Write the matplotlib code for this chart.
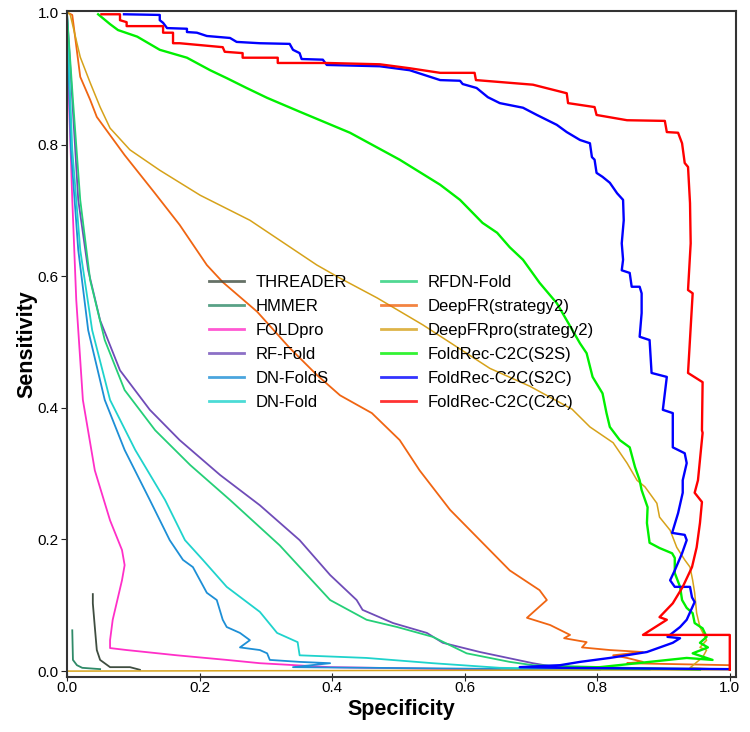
import matplotlib
matplotlib.use('Agg')
import matplotlib.pyplot as plt

plt.rcParams['font.family'] = ['Liberation Sans', 'DejaVu Sans']

# (specificity, sensitivity) points
threader_x = [0.039, 0.039, 0.042, 0.045, 0.050, 0.065, 0.095, 0.110]
threader_y = [0.117, 0.103, 0.067, 0.032, 0.017, 0.006, 0.006, 0.002]

hmmer_x = [0.008, 0.009, 0.015, 0.023, 0.050]
hmmer_y = [0.062, 0.017, 0.009, 0.005, 0.003]

foldpro_x = [0.0, 0.003, 0.008, 0.014, 0.024, 0.042, 0.065, 0.083, 0.087, 0.083, 0.069,
             0.065, 0.065, 0.090, 0.166, 0.241, 0.291, 0.397, 0.653]
foldpro_y = [1.0, 0.868, 0.716, 0.564, 0.412, 0.305, 0.229, 0.184, 0.161, 0.138, 0.078,
             0.047, 0.035, 0.032, 0.024, 0.017, 0.012, 0.006, 0.002]

rffold_x = [0.0, 0.008, 0.017, 0.032, 0.050, 0.080, 0.125, 0.170, 0.231, 0.291, 0.351,
            0.397, 0.437, 0.446, 0.492, 0.543, 0.567, 0.623, 0.703, 0.744, 0.955]
rffold_y = [1.0, 0.868, 0.716, 0.609, 0.533, 0.457, 0.397, 0.351, 0.298, 0.252, 0.199,
            0.146, 0.108, 0.093, 0.073, 0.058, 0.043, 0.029, 0.012, 0.005, 0.002]

dnfolds_x = [0.0, 0.006, 0.017, 0.032, 0.057, 0.087, 0.125, 0.155, 0.175, 0.190, 0.211,
             0.226, 0.235, 0.241, 0.261, 0.276, 0.261, 0.291, 0.302, 0.306, 0.351, 0.397,
             0.341, 0.804]
dnfolds_y = [1.0, 0.792, 0.640, 0.518, 0.412, 0.336, 0.260, 0.199, 0.169, 0.158, 0.119,
             0.108, 0.078, 0.067, 0.058, 0.047, 0.036, 0.032, 0.027, 0.017, 0.014, 0.012,
             0.006, 0.002]

dnfold_x = [0.0, 0.008, 0.020, 0.038, 0.065, 0.103, 0.148, 0.178, 0.205, 0.241, 0.291,
            0.317, 0.348, 0.351, 0.452, 0.552, 0.653, 0.879]
dnfold_y = [1.0, 0.792, 0.640, 0.518, 0.412, 0.336, 0.260, 0.199, 0.169, 0.128, 0.090,
            0.058, 0.044, 0.024, 0.020, 0.012, 0.005, 0.002]

rfdn_x = [0.0, 0.009, 0.020, 0.035, 0.057, 0.087, 0.133, 0.186, 0.246, 0.321, 0.397,
          0.452, 0.498, 0.552, 0.603, 0.668, 0.703, 0.955]
rfdn_y = [1.0, 0.868, 0.716, 0.594, 0.503, 0.427, 0.366, 0.313, 0.260, 0.191, 0.108,
          0.078, 0.067, 0.052, 0.027, 0.014, 0.009, 0.002]

deepfr_x = [0.002, 0.008, 0.020, 0.035, 0.045, 0.087, 0.132, 0.170, 0.211, 0.235, 0.287,
            0.336, 0.377, 0.412, 0.460, 0.502, 0.532, 0.578, 0.623, 0.668, 0.713, 0.724,
            0.694, 0.729, 0.759, 0.750, 0.784, 0.777, 0.819, 0.869, 0.824, 0.845, 0.869,
            0.845, 1.0, 1.0]
deepfr_y = [1.0, 0.997, 0.903, 0.868, 0.842, 0.784, 0.727, 0.678, 0.617, 0.591, 0.546,
            0.491, 0.450, 0.419, 0.392, 0.351, 0.305, 0.245, 0.199, 0.153, 0.123, 0.108,
            0.081, 0.070, 0.055, 0.050, 0.044, 0.036, 0.032, 0.029, 0.024, 0.020, 0.014,
            0.012, 0.009, 0.002]

deepfrpro_x = [0.002, 0.005, 0.020, 0.035, 0.050, 0.065, 0.095, 0.140, 0.201, 0.276, 0.377,
               0.412, 0.468, 0.537, 0.638, 0.698, 0.762, 0.789, 0.824, 0.845, 0.860, 0.872,
               0.890, 0.894, 0.910, 0.920, 0.932, 0.940, 0.944, 0.947, 0.950, 0.955, 0.965,
               0.955, 0.965, 0.959, 0.940, 1.0, 0.0]
deepfrpro_y = [1.0, 0.997, 0.933, 0.894, 0.857, 0.825, 0.792, 0.761, 0.723, 0.685, 0.617,
               0.597, 0.567, 0.526, 0.460, 0.433, 0.398, 0.371, 0.347, 0.316, 0.290, 0.280,
               0.255, 0.234, 0.214, 0.188, 0.169, 0.158, 0.138, 0.119, 0.088, 0.067, 0.047,
               0.036, 0.032, 0.021, 0.005, 0.002, 0.0]

s2s_x = [0.047, 0.065, 0.077, 0.106, 0.140, 0.181, 0.216, 0.241, 0.271, 0.302, 0.351,
         0.427, 0.502, 0.563, 0.593, 0.627, 0.649, 0.668, 0.688, 0.713, 0.739, 0.754,
         0.774, 0.784, 0.793, 0.808, 0.814, 0.819, 0.834, 0.849, 0.857, 0.864, 0.867,
         0.876, 0.875, 0.879, 0.894, 0.913, 0.917, 0.917, 0.925, 0.928, 0.935, 0.944,
         0.947, 0.959, 0.965, 0.955, 0.967, 0.944, 0.974, 0.935, 0.804, 0.744, 0.955]
s2s_y = [0.998, 0.983, 0.974, 0.964, 0.944, 0.932, 0.913, 0.901, 0.886, 0.871, 0.850,
         0.818, 0.777, 0.739, 0.716, 0.681, 0.666, 0.644, 0.625, 0.590, 0.559, 0.533,
         0.498, 0.483, 0.447, 0.422, 0.392, 0.371, 0.351, 0.340, 0.310, 0.290, 0.275,
         0.249, 0.225, 0.195, 0.187, 0.179, 0.172, 0.149, 0.128, 0.108, 0.096, 0.088,
         0.073, 0.065, 0.052, 0.043, 0.036, 0.027, 0.017, 0.020, 0.006, 0.005, 0.003]

s2c_x = [0.086, 0.140, 0.140, 0.145, 0.151, 0.181, 0.181, 0.196, 0.211, 0.246, 0.256,
         0.291, 0.336, 0.341, 0.351, 0.354, 0.386, 0.392, 0.472, 0.517, 0.563, 0.593,
         0.597, 0.618, 0.635, 0.653, 0.688, 0.709, 0.739, 0.754, 0.774, 0.789, 0.792,
         0.796, 0.799, 0.808, 0.819, 0.830, 0.839, 0.840, 0.837, 0.839, 0.837, 0.849,
         0.852, 0.864, 0.867, 0.867, 0.864, 0.879, 0.882, 0.905, 0.899, 0.914, 0.914,
         0.932, 0.935, 0.929, 0.929, 0.922, 0.913, 0.932, 0.935, 0.928, 0.917, 0.910,
         0.917, 0.940, 0.943, 0.947, 0.935, 0.925, 0.906, 0.925, 0.914, 0.875, 0.819,
         0.774, 0.744, 0.683, 0.744, 1.0]
s2c_y = [0.998, 0.997, 0.989, 0.985, 0.977, 0.976, 0.971, 0.970, 0.965, 0.962, 0.956,
         0.954, 0.953, 0.944, 0.939, 0.930, 0.929, 0.921, 0.919, 0.913, 0.898, 0.897,
         0.892, 0.886, 0.872, 0.863, 0.856, 0.845, 0.830, 0.819, 0.807, 0.802, 0.781,
         0.777, 0.757, 0.751, 0.742, 0.726, 0.716, 0.685, 0.650, 0.625, 0.609, 0.605,
         0.584, 0.584, 0.574, 0.544, 0.508, 0.503, 0.453, 0.447, 0.397, 0.392, 0.340,
         0.331, 0.316, 0.290, 0.271, 0.240, 0.210, 0.207, 0.199, 0.179, 0.153, 0.138,
         0.128, 0.128, 0.112, 0.105, 0.078, 0.067, 0.052, 0.050, 0.043, 0.029, 0.020,
         0.014, 0.009, 0.006, 0.005, 0.003]

c2c_x = [0.052, 0.080, 0.080, 0.090, 0.090, 0.145, 0.145, 0.160, 0.160, 0.170, 0.235,
         0.238, 0.265, 0.265, 0.318, 0.318, 0.392, 0.472, 0.517, 0.563, 0.615, 0.617,
         0.703, 0.754, 0.756, 0.796, 0.799, 0.845, 0.902, 0.905, 0.922, 0.928, 0.932,
         0.937, 0.940, 0.941, 0.937, 0.944, 0.937, 0.959, 0.958, 0.959, 0.952, 0.947,
         0.958, 0.955, 0.950, 0.943, 0.929, 0.914, 0.894, 0.905, 0.869, 1.0, 1.0]
c2c_y = [0.998, 0.998, 0.989, 0.986, 0.980, 0.980, 0.970, 0.970, 0.954, 0.954, 0.948,
         0.941, 0.939, 0.932, 0.932, 0.924, 0.924, 0.922, 0.916, 0.909, 0.909, 0.898,
         0.891, 0.878, 0.863, 0.857, 0.845, 0.837, 0.836, 0.819, 0.818, 0.802, 0.772,
         0.766, 0.711, 0.650, 0.579, 0.574, 0.453, 0.439, 0.366, 0.362, 0.290, 0.271,
         0.257, 0.225, 0.188, 0.158, 0.128, 0.103, 0.082, 0.078, 0.055, 0.055, 0.002]

series = [
    ('THREADER', threader_x, threader_y, '#3f4d40', 1.3),
    ('HMMER', hmmer_x, hmmer_y, '#2f8a68', 1.3),
    ('FOLDpro', foldpro_x, foldpro_y, '#ff2fc8', 1.3),
    ('RF-Fold', rffold_x, rffold_y, '#6f4cb8', 1.3),
    ('DN-FoldS', dnfolds_x, dnfolds_y, '#1d8fd6', 1.3),
    ('DN-Fold', dnfold_x, dnfold_y, '#1fd3cc', 1.3),
    ('RFDN-Fold', rfdn_x, rfdn_y, '#25cf78', 1.3),
    ('DeepFR(strategy2)', deepfr_x, deepfr_y, '#f06512', 1.3),
    ('DeepFRpro(strategy2)', deepfrpro_x, deepfrpro_y, '#d6a21a', 1.1),
    ('FoldRec-C2C(S2S)', s2s_x, s2s_y, '#00f000', 1.7),
    ('FoldRec-C2C(S2C)', s2c_x, s2c_y, '#0000ff', 1.7),
    ('FoldRec-C2C(C2C)', c2c_x, c2c_y, '#ff0000', 1.7),
]

fig = plt.figure(figsize=(7.5, 7.32), dpi=100)
ax = fig.add_axes([0.0893, 0.0751, 0.8917, 0.9099])

for name, xs, ys, col, lw in series:
    ax.plot(xs, ys, color=col, lw=lw, label=name)

ax.set_xlim(0, 1.009)
ax.set_ylim(-0.009, 1.003)
ax.set_xticks([0.0, 0.2, 0.4, 0.6, 0.8, 1.0])
ax.set_yticks([0.0, 0.2, 0.4, 0.6, 0.8, 1.0])
ax.tick_params(axis='x', direction='inout', length=6, labelsize=11, pad=0, color='#222222')
ax.tick_params(axis='y', direction='out', length=4, labelsize=11, pad=2, color='#222222')
for s in ax.spines.values():
    s.set_linewidth(1.5)
    s.set_color('#333333')

ax.set_xlabel('Specificity', fontsize=15.5, fontweight='bold', labelpad=3)
ax.set_ylabel('Sensitivity', fontsize=15.5, fontweight='bold', labelpad=0)

leg = ax.legend(ncol=2, loc='upper left', bbox_to_anchor=(0.19, 0.626), frameon=False,
                fontsize=12, handlelength=2.1, handletextpad=0.7, columnspacing=2.0,
                labelspacing=0.54)
for h in leg.get_lines():
    h.set_linewidth(2.0)
    h.set_alpha(0.8)

fig.savefig('out.png', dpi=100)
